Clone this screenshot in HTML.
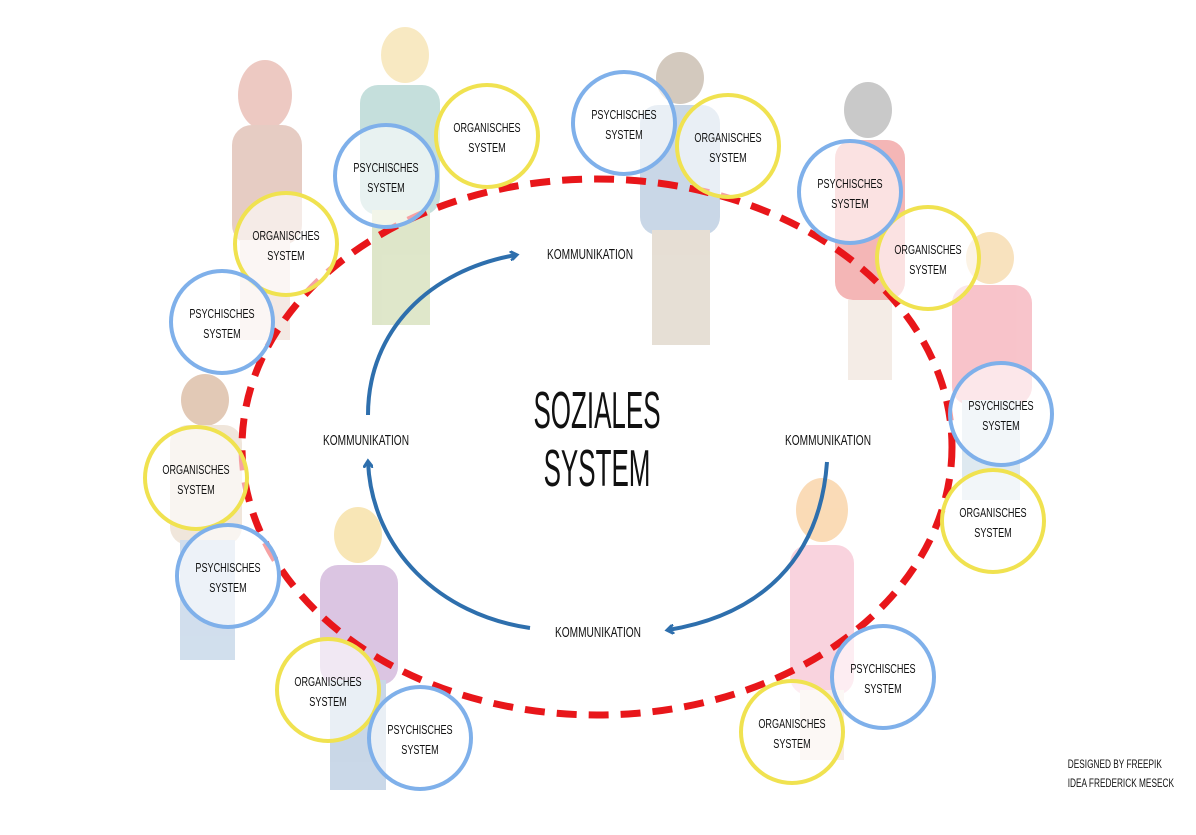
<!DOCTYPE html>
<html><head><meta charset="utf-8"><style>
html,body{margin:0;padding:0;background:#fff;}
svg{display:block}
text{font-family:"Liberation Sans",sans-serif;fill:#111;}
.l{font-size:13px;text-anchor:middle;}
</style></head><body>
<svg width="1196" height="835" viewBox="0 0 1196 835" xmlns="http://www.w3.org/2000/svg">
<defs>
<marker id="ah" markerWidth="10" markerHeight="10" refX="6" refY="5" orient="auto" markerUnits="userSpaceOnUse">
<path d="M0,0 L7,5 L0,10" fill="none" stroke="#2e6fad" stroke-width="3"/></marker>
</defs>
<g opacity="0.45">
 <ellipse cx="265" cy="95" rx="27" ry="35" fill="#d98a7a"/>
 <rect x="232" y="125" width="70" height="120" rx="20" fill="#c98f7c"/>
 <rect x="240" y="240" width="50" height="100" fill="#e8d0c4"/>
 <ellipse cx="405" cy="55" rx="24" ry="28" fill="#f0d07a"/>
 <rect x="360" y="85" width="80" height="130" rx="18" fill="#7fb9b2"/>
 <rect x="372" y="210" width="58" height="115" fill="#b8c98a"/>
 <ellipse cx="680" cy="78" rx="24" ry="26" fill="#a08a70"/>
 <rect x="640" y="105" width="80" height="130" rx="18" fill="#8aa8cc"/>
 <rect x="652" y="230" width="58" height="115" fill="#c8b8a2"/>
 <ellipse cx="868" cy="110" rx="24" ry="28" fill="#888"/>
 <rect x="835" y="140" width="70" height="160" rx="18" fill="#e86060"/>
 <rect x="848" y="300" width="44" height="80" fill="#e8d6c8"/>
 <ellipse cx="990" cy="258" rx="24" ry="26" fill="#f0c070"/>
 <rect x="952" y="285" width="80" height="120" rx="18" fill="#f07c8c"/>
 <rect x="962" y="400" width="58" height="100" fill="#b8d0e0"/>
 <ellipse cx="205" cy="400" rx="24" ry="26" fill="#c08a60"/>
 <rect x="170" y="425" width="72" height="120" rx="18" fill="#e0c8b0"/>
 <rect x="180" y="540" width="55" height="120" fill="#9ab8d8"/>
 <ellipse cx="358" cy="535" rx="24" ry="28" fill="#f0c860"/>
 <rect x="320" y="565" width="78" height="120" rx="18" fill="#b080c0"/>
 <rect x="330" y="680" width="56" height="110" fill="#8aa8cc"/>
 <ellipse cx="822" cy="510" rx="26" ry="32" fill="#f5b060"/>
 <rect x="790" y="545" width="64" height="150" rx="18" fill="#f2a0b8"/>
 <rect x="800" y="690" width="44" height="70" fill="#f0d8c8"/>
</g>
<ellipse cx="597" cy="447" rx="355" ry="268" fill="none" stroke="#e8161a" stroke-width="7" stroke-dasharray="20 12"/>
<g stroke-width="4">
<g fill="rgba(255,255,255,0.6)" stroke="#f0e250">
 <circle cx="487" cy="136" r="51"/><circle cx="286" cy="244" r="51"/><circle cx="196" cy="478" r="51"/>
 <circle cx="328" cy="690" r="51"/><circle cx="792" cy="732" r="51"/><circle cx="993" cy="521" r="51"/>
 <circle cx="928" cy="258" r="51"/><circle cx="728" cy="146" r="51"/>
</g>
<g fill="rgba(255,255,255,0.6)" stroke="#7fb0ea">
 <circle cx="386" cy="176" r="51"/><circle cx="222" cy="322" r="51"/><circle cx="228" cy="576" r="51"/>
 <circle cx="420" cy="738" r="51"/><circle cx="883" cy="677" r="51"/><circle cx="1001" cy="414" r="51"/>
 <circle cx="850" cy="192" r="51"/><circle cx="624" cy="123" r="51"/>
</g>
</g>
<g transform="scale(0.7,1)">
 <text class="l" x="695.7" y="132">ORGANISCHES</text><text class="l" x="695.7" y="152">SYSTEM</text>
 <text class="l" x="408.6" y="240">ORGANISCHES</text><text class="l" x="408.6" y="260">SYSTEM</text>
 <text class="l" x="280" y="474">ORGANISCHES</text><text class="l" x="280" y="494">SYSTEM</text>
 <text class="l" x="468.6" y="686">ORGANISCHES</text><text class="l" x="468.6" y="706">SYSTEM</text>
 <text class="l" x="1131.4" y="728">ORGANISCHES</text><text class="l" x="1131.4" y="748">SYSTEM</text>
 <text class="l" x="1418.6" y="517">ORGANISCHES</text><text class="l" x="1418.6" y="537">SYSTEM</text>
 <text class="l" x="1325.7" y="254">ORGANISCHES</text><text class="l" x="1325.7" y="274">SYSTEM</text>
 <text class="l" x="1040" y="142">ORGANISCHES</text><text class="l" x="1040" y="162">SYSTEM</text>
 <text class="l" x="551.4" y="172">PSYCHISCHES</text><text class="l" x="551.4" y="192">SYSTEM</text>
 <text class="l" x="317.1" y="318">PSYCHISCHES</text><text class="l" x="317.1" y="338">SYSTEM</text>
 <text class="l" x="325.7" y="572">PSYCHISCHES</text><text class="l" x="325.7" y="592">SYSTEM</text>
 <text class="l" x="600" y="734">PSYCHISCHES</text><text class="l" x="600" y="754">SYSTEM</text>
 <text class="l" x="1261.4" y="673">PSYCHISCHES</text><text class="l" x="1261.4" y="693">SYSTEM</text>
 <text class="l" x="1430" y="410">PSYCHISCHES</text><text class="l" x="1430" y="430">SYSTEM</text>
 <text class="l" x="1214.3" y="188">PSYCHISCHES</text><text class="l" x="1214.3" y="208">SYSTEM</text>
 <text class="l" x="891.4" y="119">PSYCHISCHES</text><text class="l" x="891.4" y="139">SYSTEM</text>
 <text class="l" style="font-size:14.5px" x="842.9" y="259">KOMMUNIKATION</text>
 <text class="l" style="font-size:14.5px" x="522.9" y="445">KOMMUNIKATION</text>
 <text class="l" style="font-size:14.5px" x="1182.9" y="445">KOMMUNIKATION</text>
 <text class="l" style="font-size:14.5px" x="854.3" y="637">KOMMUNIKATION</text>
</g>
<g fill="none" stroke="#2e6fad" stroke-width="4" marker-end="url(#ah)">
 <path d="M368,415 C368,330 430,270 516,255"/>
 <path d="M827,462 C820,560 760,615 668,630"/>
 <path d="M530,628 C440,615 372,550 368,462"/>
</g>
<g transform="translate(597,0) scale(0.5,1)">
 <text x="0" y="428" font-size="52" text-anchor="middle">SOZIALES</text>
 <text x="0" y="486" font-size="52" text-anchor="middle">SYSTEM</text>
</g>
<g transform="scale(0.72,1)">
<text x="1483" y="768" font-size="11.5">DESIGNED BY FREEPIK</text>
<text x="1483" y="787" font-size="11.5">IDEA FREDERICK MESECK</text>
</g>
</svg>
</body></html>
